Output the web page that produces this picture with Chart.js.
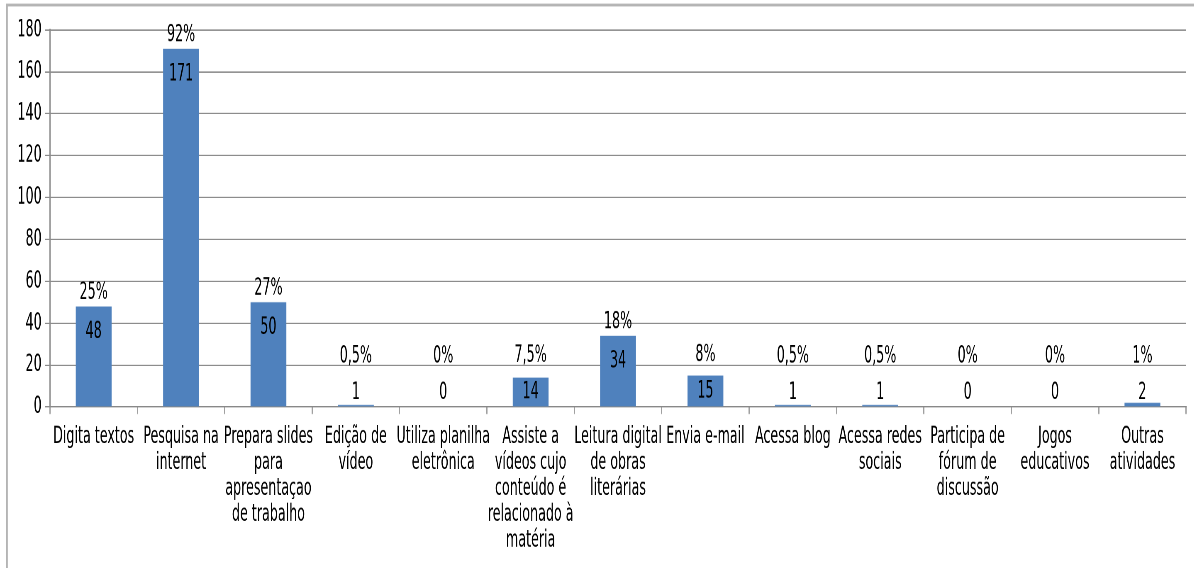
<!DOCTYPE html>
<html>
<head>
<meta charset="utf-8">
<script src="https://cdn.jsdelivr.net/npm/chart.js@4/dist/chart.umd.min.js"></script>
<style>
  body { margin: 0; padding: 0; background: #fff; }
  #outer { width: 1194px; height: 568px; overflow: hidden; }
  /* the source picture is squeezed sideways, so the text looks very narrow and tall */
  #wrap { width: 1439px; height: 406px; transform: scale(0.8298, 1.4); transform-origin: 0 0; }
</style>
</head>
<body>
<div id="outer"><div id="wrap"><canvas id="chart" width="1439" height="406"></canvas></div></div>
<script>
// Chart data
const categories = [
    ['Digita textos'],
    ['Pesquisa na', 'internet'],
    ['Prepara slides', 'para', 'apresentaçao', 'de trabalho'],
    ['Edição de', 'vídeo'],
    ['Utiliza planilha', 'eletrônica'],
    ['Assiste a', 'vídeos cujo', 'conteúdo é', 'relacionado à', 'matéria'],
    ['Leitura digital', 'de obras', 'literárias'],
    ['Envia e-mail'],
    ['Acessa blog'],
    ['Acessa redes', 'sociais'],
    ['Participa de', 'fórum de', 'discussão'],
    ['Jogos', 'educativos'],
    ['Outras', 'atividades']
];
const counts = [48, 171, 50, 1, 0, 14, 34, 15, 1, 1, 0, 0, 2];
const percents = ['25%', '92%', '27%', '0,5%', '0%', '7,5%', '18%', '8%', '0,5%', '0,5%', '0%', '0%', '1%'];
const yMin = 0;
const yMax = 180;
const yStep = 20;

const FONT = '"Liberation Sans Narrow", "DejaVu Sans Condensed", sans-serif';

// Frame around the chart (left and top edges only show in the crop)
const frame = {
    id: 'frame',
    beforeDraw(chart) {
        const ctx = chart.ctx;
        ctx.save();
        ctx.fillStyle = '#fff';
        ctx.fillRect(0, 0, chart.width, chart.height);
        ctx.strokeStyle = '#b4b4b4';
        ctx.lineWidth = 2;
        ctx.beginPath();
        ctx.moveTo(8.4, chart.height);
        ctx.lineTo(8.4, 3.6);
        ctx.lineTo(chart.width, 3.6);
        ctx.stroke();
        ctx.restore();
    }
};

// Count and percentage labels on each bar
const barLabels = {
    id: 'barLabels',
    afterDatasetsDraw(chart) {
        const ctx = chart.ctx;
        const meta = chart.getDatasetMeta(0);
        const base = chart.scales.y.getPixelForValue(0);
        ctx.save();
        ctx.font = '17px ' + FONT;
        ctx.fillStyle = '#000';
        ctx.textAlign = 'center';
        ctx.textBaseline = 'middle';
        meta.data.forEach((bar, i) => {
            const h = base - bar.y;
            let vy;
            if (h < 7) {
                vy = base - 10;
            } else {
                vy = Math.min(bar.y + 18, (bar.y + base) / 2);
            }
            ctx.fillText(String(counts[i]), bar.x, vy);
            ctx.fillText(percents[i], bar.x, Math.min(bar.y - 10, vy - 26));
        });
        ctx.restore();
    }
};

new Chart(document.getElementById('chart').getContext('2d'), {
    type: 'bar',
    data: {
        labels: categories,
        datasets: [{
            data: counts,
            backgroundColor: '#4f81bd',
            borderWidth: 0,
            categoryPercentage: 1,
            barPercentage: 0.41
        }]
    },
    options: {
        responsive: false,
        animation: false,
        devicePixelRatio: 2,
        layout: { padding: { left: 0, top: 21.4, right: 9.6, bottom: 0 } },
        plugins: {
            legend: { display: false },
            tooltip: { enabled: false }
        },
        scales: {
            x: {
                afterFit: (scale) => { scale.height = 115.3; },
                grid: {
                    offset: true,
                    drawOnChartArea: false,
                    drawTicks: true,
                    tickLength: 5,
                    color: '#a0a0a0',
                    lineWidth: 1.5
                },
                border: { color: '#888888', width: 1 },
                ticks: {
                    autoSkip: false,
                    maxRotation: 0,
                    padding: 7,
                    color: '#000',
                    font: { family: FONT, size: 17, lineHeight: 1.09 }
                }
            },
            y: {
                min: yMin,
                max: yMax,
                afterFit: (scale) => { scale.width = 60.2; },
                grid: {
                    color: '#8c8c8c',
                    tickLength: 6,
                    drawTicks: true
                },
                border: { color: '#8c8c8c', width: 1.5 },
                ticks: {
                    stepSize: yStep,
                    padding: 4,
                    color: '#000',
                    font: { family: FONT, size: 17 }
                }
            }
        }
    },
    plugins: [frame, barLabels]
});
</script>
</body>
</html>
